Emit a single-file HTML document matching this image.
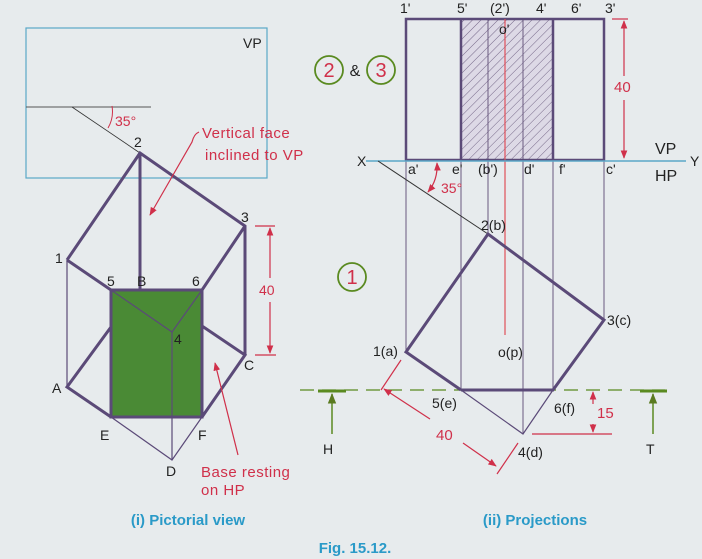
<!DOCTYPE html>
<html><head><meta charset="utf-8"><style>
html,body{margin:0;padding:0;background:#e7ebed;}
svg{display:block}
text{font-family:"Liberation Sans",sans-serif;}
</style></head><body>
<svg width="702" height="559" viewBox="0 0 702 559" xmlns="http://www.w3.org/2000/svg">
<defs>
<pattern id="h" width="6" height="6" patternUnits="userSpaceOnUse" patternTransform="rotate(45)">
<rect width="6" height="6" fill="#ddd9e6"/><line x1="0" y1="0" x2="0" y2="6" stroke="#5a4a70" stroke-width="0.8"/></pattern>
<marker id="ar" viewBox="0 0 10 10" refX="9" refY="5" markerWidth="7" markerHeight="7" orient="auto-start-reverse"><path d="M0,1 L10,5 L0,9z" fill="#d0304a"/></marker>
<marker id="ag" viewBox="0 0 10 10" refX="9" refY="5" markerWidth="7" markerHeight="7" orient="auto"><path d="M0,1 L10,5 L0,9z" fill="#5a7a20"/></marker>
</defs>
<rect width="702" height="559" fill="#e7ebed"/>
<!-- Pictorial -->
<rect x="26" y="28" width="241" height="150" fill="none" stroke="#5aa8c8" stroke-width="1.2"/>
<text x="243" y="48" font-size="14" fill="#222">VP</text>
<line x1="26" y1="107" x2="151" y2="107" stroke="#555" stroke-width="1"/>
<line x1="72" y1="107" x2="140" y2="153" stroke="#333" stroke-width="0.8"/>
<path d="M112,106 Q114,118 108,128" fill="none" stroke="#d0304a" stroke-width="1"/>
<text x="115" y="126" font-size="14" fill="#d0304a">35°</text>
<g stroke="#5b4a78" fill="none">
<polygon points="111,290 202,290 202,417 111,417" fill="#4a8a35" stroke-width="3"/>
<g stroke-width="3">
<polyline points="67,260 140,153 245,226 245,355"/>
<line x1="140" y1="153" x2="140" y2="290"/>
<line x1="67" y1="260" x2="111" y2="290"/>
<line x1="245" y1="226" x2="202" y2="290"/>
<polyline points="111,327 67,387 111,417"/>
<polyline points="202,326 245,355 202,417"/>
</g>
<g stroke-width="1.2">
<line x1="67" y1="260" x2="67" y2="387"/>
<polyline points="111,417 172,460 202,417"/>
<line x1="172" y1="332" x2="172" y2="460"/>
<polyline points="111,290 172,332 202,290"/>
</g>
</g>
<g font-size="14" fill="#222">
<text x="134" y="147">2</text><text x="241" y="222">3</text><text x="55" y="263">1</text>
<text x="107" y="286">5</text><text x="137" y="286">B</text><text x="192" y="286">6</text>
<text x="174" y="344">4</text><text x="52" y="393">A</text><text x="244" y="370">C</text>
<text x="100" y="440">E</text><text x="198" y="440">F</text><text x="166" y="476">D</text>
</g>
<g stroke="#d0304a" stroke-width="1.2" fill="none">
<line x1="255" y1="226" x2="275" y2="226"/><line x1="255" y1="355" x2="276" y2="355"/>
<line x1="270" y1="278" x2="270" y2="228" marker-end="url(#ar)"/>
<line x1="270" y1="302" x2="270" y2="353" marker-end="url(#ar)"/>
<path d="M199,132 Q194,134 192,142 L150,215" marker-end="url(#ar)"/>
<line x1="238" y1="455" x2="215" y2="363" marker-end="url(#ar)"/>
</g>
<text x="259" y="295" font-size="14" fill="#d0304a">40</text>
<text x="202" y="138" font-size="15" fill="#d0304a" letter-spacing="0.5">Vertical face</text>
<text x="205" y="160" font-size="15" fill="#d0304a" letter-spacing="0.5">inclined to VP</text>
<text x="201" y="477" font-size="15" fill="#d0304a" letter-spacing="0.5">Base resting</text>
<text x="201" y="495" font-size="15" fill="#d0304a" letter-spacing="0.5">on HP</text>
<text x="188" y="525" font-size="15" font-weight="bold" fill="#2a9ac8" text-anchor="middle">(i) Pictorial view</text>
<!-- circles -->
<g fill="none" stroke="#5a8a20" stroke-width="1.8">
<circle cx="329" cy="70" r="14"/><circle cx="381" cy="70" r="14"/><circle cx="352" cy="277" r="14"/>
</g>
<g font-size="20" fill="#d0304a" text-anchor="middle">
<text x="329" y="77">2</text><text x="381" y="77">3</text><text x="352" y="284">1</text></g>
<text x="355" y="76" font-size="16" fill="#222" text-anchor="middle">&amp;</text>
<!-- front view -->
<rect x="461" y="19" width="92" height="141" fill="url(#h)"/>
<g stroke="#6a5a80" stroke-width="1" fill="none">
<line x1="488" y1="19" x2="488" y2="234"/><line x1="523" y1="19" x2="523" y2="434"/>
<line x1="406" y1="160" x2="406" y2="352"/><line x1="461" y1="160" x2="461" y2="390"/>
<line x1="553" y1="160" x2="553" y2="390"/><line x1="604" y1="160" x2="604" y2="320"/>
</g>
<rect x="406" y="19" width="198" height="141" fill="none" stroke="#5b4a78" stroke-width="2.5"/>
<line x1="461" y1="19" x2="461" y2="160" stroke="#5b4a78" stroke-width="2.5"/>
<line x1="553" y1="19" x2="553" y2="160" stroke="#5b4a78" stroke-width="2.5"/>
<line x1="505" y1="19" x2="505" y2="335" stroke="#e0505a" stroke-width="1.2"/>
<line x1="366" y1="161" x2="686" y2="161" stroke="#5aa8c8" stroke-width="1.5"/>
<line x1="378" y1="161" x2="488" y2="234" stroke="#333" stroke-width="1"/>
<g font-size="14" fill="#222">
<text x="357" y="166">X</text><text x="690" y="166">Y</text>
<text x="400" y="13">1'</text><text x="457" y="13">5'</text><text x="490" y="13">(2')</text>
<text x="536" y="13">4'</text><text x="571" y="13">6'</text><text x="605" y="13">3'</text>
<text x="499" y="34">o'</text>
<text x="408" y="174">a'</text><text x="452" y="174">e'</text><text x="478" y="174">(b')</text>
<text x="524" y="174">d'</text><text x="559" y="174">f'</text><text x="606" y="174">c'</text>
<text x="655" y="154" font-size="16">VP</text><text x="655" y="181" font-size="16">HP</text>
</g>
<g stroke="#d0304a" stroke-width="1.2" fill="none">
<line x1="612" y1="19" x2="628" y2="19"/>
<line x1="624" y1="76" x2="624" y2="21" marker-end="url(#ar)"/>
<line x1="624" y1="100" x2="624" y2="158" marker-end="url(#ar)"/>
<path d="M437,163 Q438,180 428,192" marker-end="url(#ar)" marker-start="url(#ar)"/>
</g>
<text x="614" y="92" font-size="15" fill="#d0304a">40</text>
<text x="441" y="193" font-size="14" fill="#d0304a">35°</text>
<!-- top view -->
<line x1="300" y1="390" x2="665" y2="390" stroke="#5a8a20" stroke-width="1.2" stroke-dasharray="14,8"/>
<g stroke="#5b4a78" fill="none">
<polyline points="461,390 406,352 488,234 604,320 553,390 461,390" stroke-width="3"/>
<polyline points="461,390 523,434 553,390" stroke-width="1.2"/>
</g>
<g font-size="14" fill="#222">
<text x="481" y="230">2(b)</text><text x="607" y="325">3(c)</text><text x="373" y="356">1(a)</text>
<text x="498" y="357">o(p)</text><text x="432" y="408">5(e)</text><text x="554" y="413">6(f)</text>
<text x="518" y="457">4(d)</text><text x="323" y="454">H</text><text x="646" y="454">T</text>
</g>
<g stroke="#5a8a20" stroke-width="1.5">
<line x1="318" y1="391" x2="346" y2="391" stroke-width="3"/>
<line x1="332" y1="434" x2="332" y2="394" marker-end="url(#ag)"/>
<line x1="640" y1="391" x2="667" y2="391" stroke-width="3"/>
<line x1="653" y1="434" x2="653" y2="394" marker-end="url(#ag)"/>
</g>
<g stroke="#d0304a" stroke-width="1.2" fill="none">
<line x1="532" y1="434" x2="612" y2="434"/>
<line x1="593" y1="404" x2="593" y2="392" marker-end="url(#ar)"/>
<line x1="593" y1="424" x2="593" y2="432" marker-end="url(#ar)"/>
<line x1="401" y1="360" x2="381" y2="390"/>
<line x1="518" y1="443" x2="497" y2="474"/>
<line x1="430" y1="419" x2="384" y2="389" marker-end="url(#ar)"/>
<line x1="463" y1="443" x2="496" y2="466" marker-end="url(#ar)"/>
</g>
<text x="597" y="418" font-size="15" fill="#d0304a">15</text>
<text x="436" y="440" font-size="15" fill="#d0304a">40</text>
<text x="535" y="525" font-size="15" font-weight="bold" fill="#2a9ac8" text-anchor="middle">(ii) Projections</text>
<text x="355" y="553" font-size="15" font-weight="bold" fill="#2a9ac8" text-anchor="middle">Fig. 15.12.</text>
</svg>
</body></html>
